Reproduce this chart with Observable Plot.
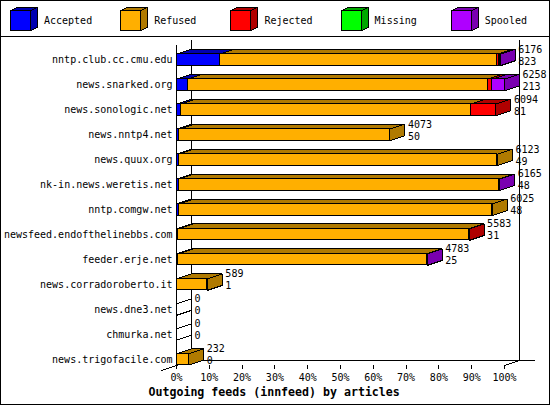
<!DOCTYPE html>
<html><head><meta charset="utf-8">
<script src="https://cdn.jsdelivr.net/npm/d3@7"></script>
<script src="https://cdn.jsdelivr.net/npm/@observablehq/plot@0.6"></script>
<style>
html,body{margin:0;padding:0;background:#fff;}
#frame{position:relative;width:548px;height:403px;border:1px solid #000;overflow:hidden;font-family:"DejaVu Sans Mono",monospace;background:#fff;}
#legend{position:relative;height:35px;border-bottom:1px solid #000;}
.item{position:absolute;top:0;height:35px;}
.item svg{position:absolute;left:0;top:6px;}
.item span{position:absolute;left:34px;top:14px;font-size:10px;line-height:12px;white-space:nowrap;color:#000;}
#chart svg{display:block;}
</style></head><body>
<div id="frame"><div id="legend"></div><div id="chart"></div></div>
<script>
// ---- data ----
const hosts = ["nntp.club.cc.cmu.edu","news.snarked.org","news.sonologic.net","news.nntp4.net","news.quux.org","nk-in.news.weretis.net","nntp.comgw.net","newsfeed.endofthelinebbs.com","feeder.erje.net","news.corradoroberto.it","news.dne3.net","chmurka.net","news.trigofacile.com"];
const totals   = [6176,6258,6094,4073,6123,6165,6025,5583,4783,589,0,0,232];
const accepted = [823,213,81,50,49,48,48,31,25,1,0,0,0];
const refused  = [5300,5724,5536,4023,6074,6112,5977,5542,4750,588,0,0,232];
const rejected = [25,90,477,0,0,0,0,10,0,0,0,0,0];
const missing  = [0,0,0,0,0,0,0,0,0,0,0,0,0];
const spooled  = [28,231,0,0,0,5,0,0,8,0,0,0,0];
const seriesNames = ["Accepted","Refused","Rejected","Missing","Spooled"];
const xTicks = [0,10,20,30,40,50,60,70,80,90,100];
const title = "Outgoing feeds (innfeed) by articles";

// ---- styles ----
const front = ["#0000ff","#ffaf00","#ff0000","#00ff00","#af00ff"];
const dark  = ["#0000b0","#b07a00","#b00000","#00a800","#7a00b0"];
const FONT = '"DejaVu Sans Mono", monospace';

// ---- layout ----
const W = 548, H = 367, ML = 175, MR = 45, MT = 8, MB = 39;
const yDomain = [-0.581, 12.24];
const pxPerPct = (W - ML - MR) / 100;
const pxPerRow = (H - MT - MB) / (yDomain[1] - yDomain[0]);
const dxp = 15 / pxPerPct, dyr = 5 / pxPerRow, hr = 5.75 / pxPerRow;
const overhang = 16 / pxPerPct;

// ---- derived ----
const series = [accepted, refused, rejected, missing, spooled];
const rowSum = i => d3.sum(series, s => s[i]);
const maxTotal = d3.max(hosts.map((_, i) => rowSum(i)));
const pct = v => v / maxTotal * 100;

const segs = [];
const polys = [];
hosts.forEach((h, i) => {
  let c = 0, lastK = -1;
  series.forEach((s, k) => {
    const v = s[i];
    if (v > 0) {
      const x1 = pct(c), x2 = pct(c + v);
      segs.push({i, k, x1, x2});
      const id = `t${i}-${k}`;
      polys.push({id, fill: dark[k], x: x1, y: i - hr});
      polys.push({id, fill: dark[k], x: x2, y: i - hr});
      polys.push({id, fill: dark[k], x: x2 + dxp, y: i - hr - dyr});
      polys.push({id, fill: dark[k], x: x1 + dxp, y: i - hr - dyr});
      lastK = k;
    }
    c += v;
  });
  const xe = pct(c);
  const fill = lastK >= 0 ? dark[lastK] : "#ffffff";
  const id = `s${i}`;
  polys.push({id, fill, x: xe, y: i - hr});
  polys.push({id, fill, x: xe + dxp, y: i - hr - dyr});
  polys.push({id, fill, x: xe + dxp, y: i + hr - dyr});
  polys.push({id, fill, x: xe, y: i + hr});
});
const rows = hosts.map((_, i) => i);
const yB = yDomain[1];

const plot = Plot.plot({
  width: W, height: H,
  marginLeft: ML, marginRight: MR, marginTop: MT, marginBottom: MB,
  x: {domain: [0, 100], label: null},
  y: {domain: yDomain, range: [MT, H - MB], label: null},
  color: {type: "identity"},
  style: {fontFamily: FONT, fontSize: "10px", background: "#fff", color: "#000"},
  marks: [
    Plot.ruleX([0, 100], {dx: 15, dy: -5, stroke: "#000", strokeWidth: 1}),
    Plot.ruleY([yB], {x1: 0, x2: 100 + overhang, dx: 15, dy: -5, stroke: "#000", strokeWidth: 1}),
    Plot.line([{x: -dxp, y: yB + dyr}, {x: dxp, y: yB - dyr}], {x: "x", y: "y", stroke: "#000", strokeWidth: 1}),
    Plot.line([{x: 100, y: yB}, {x: 100 + dxp, y: yB - dyr}], {x: "x", y: "y", stroke: "#000", strokeWidth: 1}),
    Plot.ruleX([0], {stroke: "#000", strokeWidth: 1}),
    Plot.line(polys, {x: "x", y: "y", z: "id", fill: "fill", stroke: "#000", strokeWidth: 1, curve: "linear-closed", strokeLinejoin: "miter"}),
    Plot.rect(segs, {x1: "x1", x2: "x2", y1: d => d.i - hr, y2: d => d.i + hr, fill: d => front[d.k], stroke: "#000", strokeWidth: 1}),
    Plot.text(rows, {x: i => pct(totals[i]), y: i => i, text: i => String(totals[i]), dx: 18, dy: -10.5, textAnchor: "start", fontSize: 10, fill: "#000"}),
    Plot.text(rows, {x: i => pct(totals[i]), y: i => i, text: i => String(accepted[i]), dx: 18, dy: 1.5, textAnchor: "start", fontSize: 10, fill: "#000"}),
    Plot.axisY({ticks: rows, tickFormat: i => hosts[i], tickSize: 0, tickPadding: 4, label: null, fontSize: 10}),
    Plot.axisX({ticks: xTicks, tickFormat: d => d + "%", tickSize: 4, tickPadding: 4, label: null, fontSize: 10}),
    Plot.text([title], {frameAnchor: "bottom-left", dx: -28, dy: 26.5, lineAnchor: "middle", textAnchor: "start", fontWeight: "bold", fontSize: 11.6, fill: "#000"})
  ]
});
plot.setAttribute("style", (plot.getAttribute("style") || "") + ";shape-rendering:crispEdges;");
document.getElementById("chart").appendChild(plot);

// ---- legend ----
const leg = document.getElementById("legend");
seriesNames.forEach((name, k) => {
  const d = document.createElement("div");
  d.className = "item";
  d.style.left = (9 + k * 110.2) + "px";
  d.innerHTML = `<svg width="30" height="26" shape-rendering="crispEdges"><polygon points="0.5,3.5 7.5,0.5 27.5,0.5 20.5,3.5" fill="${dark[k]}" stroke="#000"/><polygon points="20.5,3.5 27.5,0.5 27.5,20.5 20.5,23.5" fill="${dark[k]}" stroke="#000"/><rect x="0.5" y="3.5" width="20" height="20" fill="${front[k]}" stroke="#000"/></svg><span>${name}</span>`;
  leg.appendChild(d);
});
</script>
</body></html>
